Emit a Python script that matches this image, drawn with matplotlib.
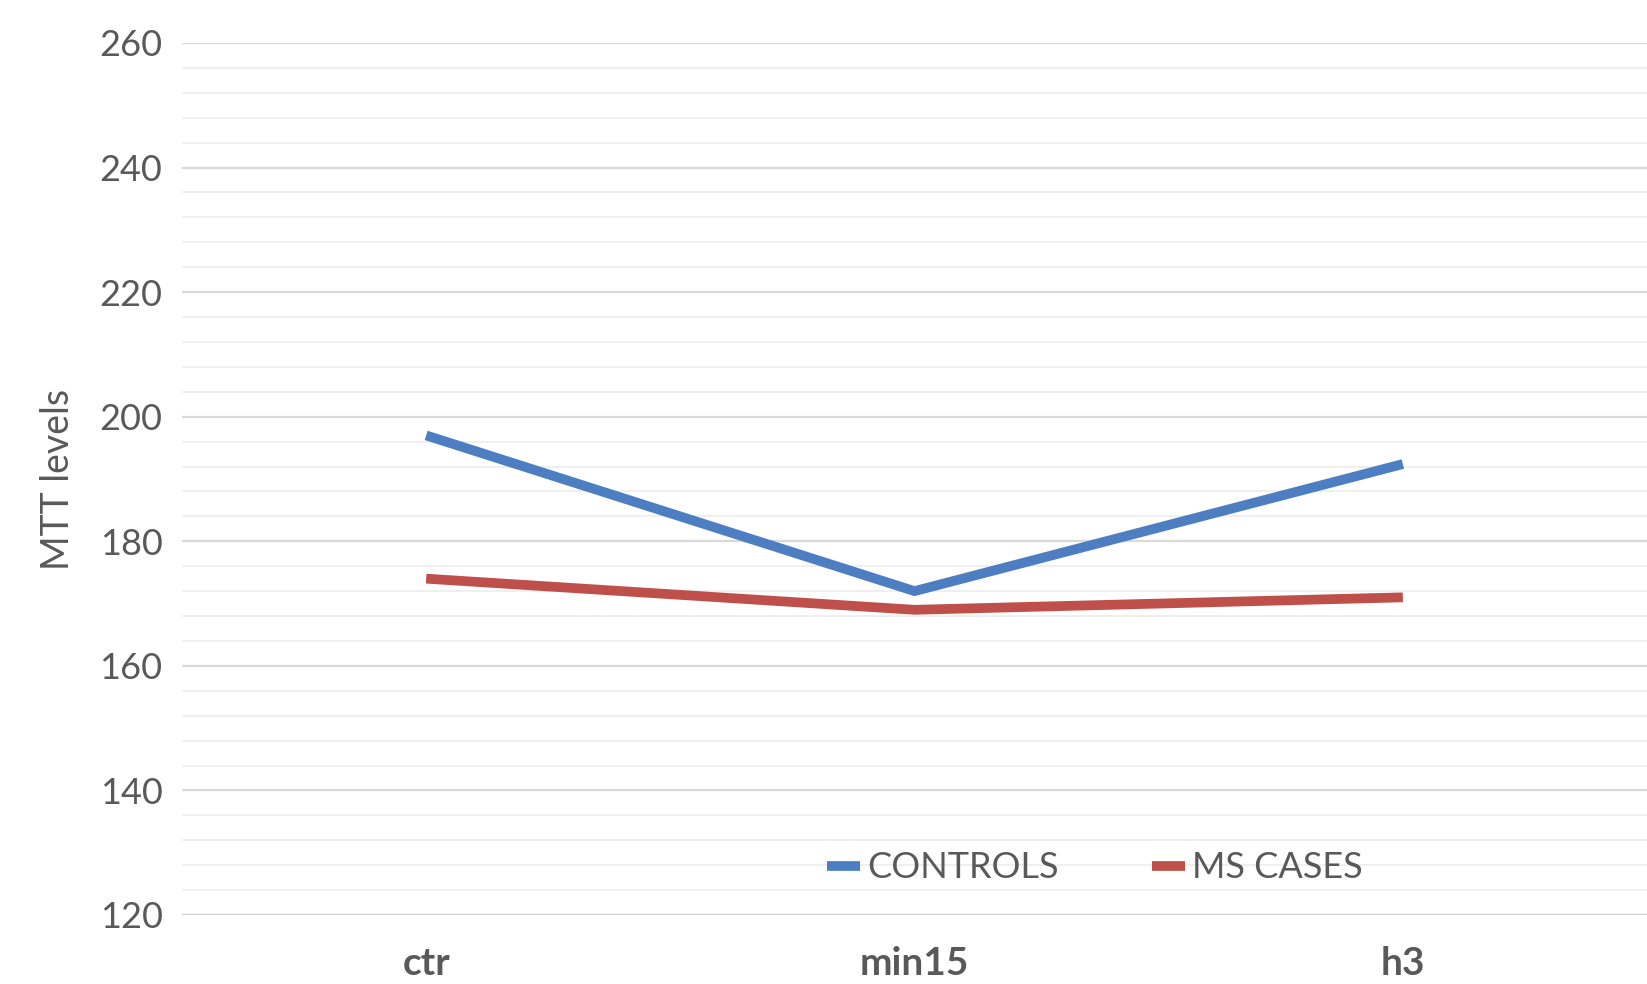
import matplotlib
matplotlib.use("Agg")
import matplotlib.pyplot as plt
from matplotlib.ticker import MultipleLocator

plt.rcParams['font.family'] = ['Lato', 'DejaVu Sans']

categories = ['ctr', 'min15', 'h3']
controls = [197, 172, 192.4]
ms_cases = [174, 169, 171]

fig = plt.figure(figsize=(16.47, 9.84), dpi=100)
ax = fig.add_axes([182 / 1647, 1 - 915 / 984, 1 - 182 / 1647, (915 - 43) / 984])

x = range(len(categories))
ax.plot(x, controls, color='#4E7EC2', lw=7, solid_capstyle='butt', solid_joinstyle='miter', label='CONTROLS')
ax.plot(x, ms_cases, color='#BE4F4A', lw=7, solid_capstyle='butt', solid_joinstyle='miter', label='MS CASES')

ax.set_xlim(-0.5, 2.5)
ax.set_ylim(120, 260)
ax.yaxis.set_major_locator(MultipleLocator(20))
ax.yaxis.set_minor_locator(MultipleLocator(4))
ax.grid(which='major', axis='y', color='#d9d9d9', lw=1.6)
ax.grid(which='minor', axis='y', color='#efefef', lw=1.4)
ax.set_axisbelow(True)

ax.set_xticks(list(x))
ax.set_xticklabels(categories, fontsize=28, fontweight='bold', color='#595959')
ax.tick_params(axis='x', length=0, pad=22)
ax.tick_params(axis='y', which='both', length=0, pad=14, labelsize=26, labelcolor='#595959')

for s in ax.spines.values():
    s.set_visible(False)
ax.axhline(120, color='#d0d0d0', lw=1.6)

fig.text(58 / 1647, 1 - 479 / 984, 'MTT levels', rotation=90, fontsize=27, color='#595959',
         ha='center', va='center')

leg = ax.legend(loc='center', bbox_to_anchor=(1095 / 1647, 1 - 868 / 984), bbox_transform=fig.transFigure,
                ncol=2, frameon=False, fontsize=26, handlelength=0.9, handletextpad=0.2, columnspacing=2.6)
for t in leg.get_texts():
    t.set_color('#595959')

fig.savefig('out.png', dpi=100, facecolor='white')
